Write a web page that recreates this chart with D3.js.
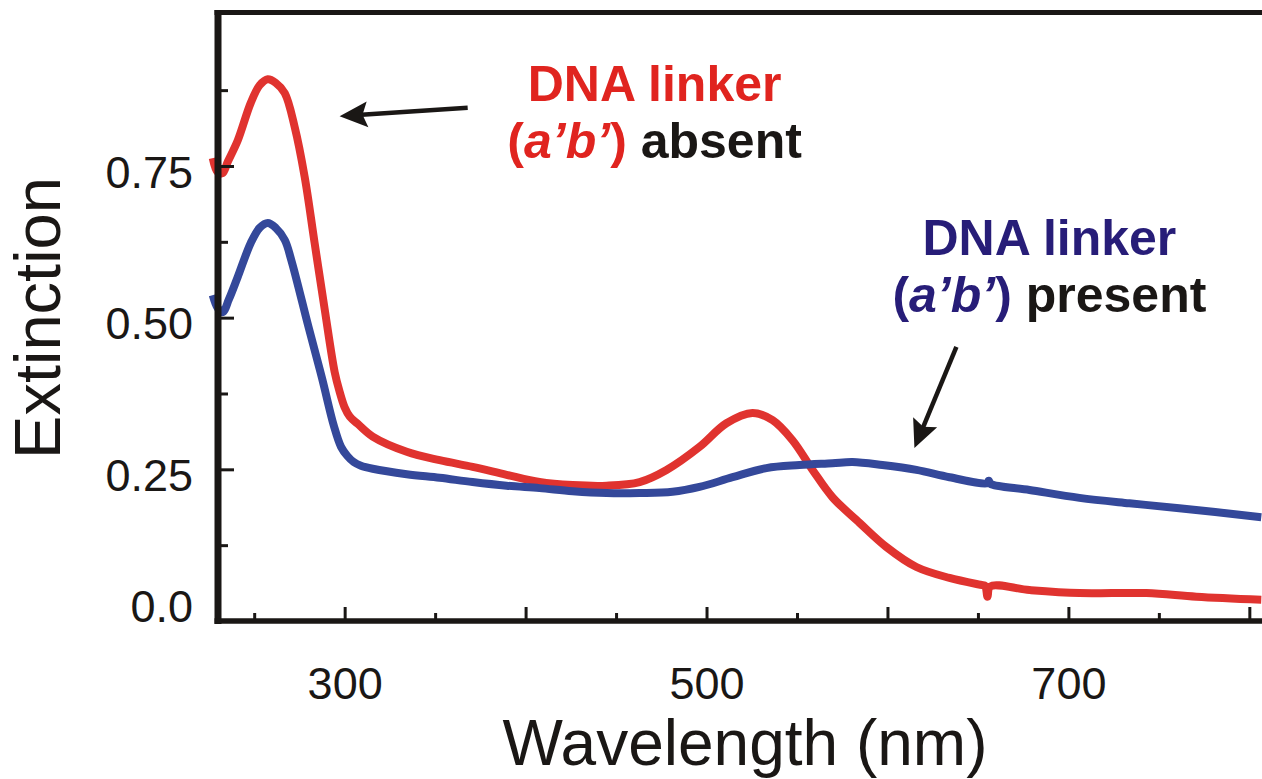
<!DOCTYPE html>
<html>
<head>
<meta charset="utf-8">
<script src="https://cdn.jsdelivr.net/npm/d3@7"></script>
<style>
  body { margin: 0; background: #fff; }
  svg { display: block; }
</style>
</head>
<body>
<script>
const WIDTH_PX = 1262;
const HEIGHT_PX = 779;

// wavelength (nm) / extinction
const absentWavelengths = [227.1, 229.8, 232.5, 235.4, 240.9, 248.1, 253.0, 257.5, 261.9, 266.9,
  272.4, 277.9, 283.4, 289.0, 294.5, 297.2, 300.0, 302.8, 307.2, 315.5, 334.3, 352.5, 370.7,
  389.5, 407.7, 426.0, 444.8, 463.0, 477.9, 496.1, 511.0, 525.4, 536.5, 547.5, 558.6, 569.6,
  584.5, 599.4, 616.0, 634.3, 652.5, 654.0, 655.3, 656.8, 678.5, 706.1, 743.1, 770.7, 806.6];
const absentExtinction = [0.763, 0.740, 0.738, 0.757, 0.792, 0.854, 0.883, 0.893, 0.887, 0.870,
  0.814, 0.732, 0.623, 0.513, 0.410, 0.378, 0.352, 0.337, 0.325, 0.304, 0.279, 0.265, 0.254,
  0.241, 0.229, 0.224, 0.223, 0.229, 0.249, 0.287, 0.326, 0.343, 0.331, 0.298, 0.249, 0.204,
  0.162, 0.122, 0.089, 0.071, 0.059, 0.058, 0.040, 0.057, 0.051, 0.046, 0.046, 0.040, 0.035];

const presentWavelengths = [227.1, 229.8, 232.6, 236.0, 240.9, 248.1, 253.0, 257.5, 261.9, 266.9,
  270.5, 280.0, 287.5, 294.0, 298.0, 301.5, 305.0, 309.0, 315.5, 334.3, 352.5, 370.7, 389.5,
  407.7, 426.0, 444.8, 463.0, 481.2, 496.1, 514.4, 533.1, 551.4, 569.6, 580.7, 597.2, 616.0,
  634.3, 655.0, 656.0, 657.0, 678.5, 706.1, 733.7, 761.3, 806.6];
const presentExtinction = [0.537, 0.516, 0.509, 0.530, 0.567, 0.623, 0.648, 0.656, 0.648, 0.628,
  0.595, 0.485, 0.400, 0.322, 0.287, 0.272, 0.262, 0.256, 0.251, 0.242, 0.236, 0.229, 0.223,
  0.219, 0.214, 0.211, 0.211, 0.213, 0.221, 0.237, 0.252, 0.257, 0.260, 0.262, 0.257, 0.249,
  0.237, 0.227, 0.231, 0.226, 0.216, 0.203, 0.194, 0.186, 0.171];

const yMajorTicks = [0, 0.25, 0.5, 0.75];
const yTickLabels = ['0.0', '0.25', '0.50', '0.75'];
const yMinorTicks = [0.125, 0.375, 0.625, 0.875];
const xMajorTicks = [300, 400, 500, 600, 700, 800];
const xMinorTicks = [250, 350, 450, 550, 650, 750];
const xLabelledTicks = [300, 500, 700];

const RED = '#e0332f';
const BLUE = '#34489a';
const INK = '#1a1715';
const FONT = '"Liberation Sans", Arial, sans-serif';

let svg = d3.select('body').append('svg')
    .attr('width', WIDTH_PX)
    .attr('height', HEIGHT_PX);

let xScale = d3.scaleLinear().domain([230, 807]).range([218, 1262]);
let yScale = d3.scaleLinear().domain([0, 1]).range([621, 14.3]);

// curves
let curves = [
  { xs: absentWavelengths, ys: absentExtinction, color: RED },
  { xs: presentWavelengths, ys: presentExtinction, color: BLUE }
];
for (let i = 0; i < curves.length; i++) {
  let pts = curves[i].xs.map(function(x, j) { return [x, curves[i].ys[j]]; });
  let line = d3.line()
      .x(function(p) { return xScale(p[0]); })
      .y(function(p) { return yScale(p[1]); })
      .curve(d3.curveCatmullRom.alpha(0.5));
  svg.append('path')
      .attr('fill', 'none')
      .attr('d', line(pts))
      .attr('stroke', curves[i].color)
      .attr('stroke-width', 8)
      .attr('stroke-linejoin', 'round');
}

// axes, ticks point inward
function styleAxis(g) {
  g.select('.domain').remove();
  g.selectAll('.tick line').attr('stroke', INK).attr('stroke-width', 3);
  g.selectAll('.tick text').attr('fill', INK).attr('font-size', 45).attr('font-family', FONT);
}

svg.append('g')
    .attr('transform', 'translate(218,0)')
    .call(d3.axisLeft(yScale).tickValues(yMinorTicks).tickSizeInner(-10).tickSizeOuter(0).tickFormat(''))
    .call(styleAxis);
let yAxis = svg.append('g')
    .attr('transform', 'translate(218,0)')
    .call(d3.axisLeft(yScale).tickValues(yMajorTicks).tickSizeInner(-16).tickSizeOuter(0)
        .tickPadding(25).tickFormat(function(d, i) { return yTickLabels[i]; }))
    .call(styleAxis);
yAxis.selectAll('.tick text').attr('dy', function(d) { return d === 0 ? '0.0em' : '0.47em'; });

svg.append('g')
    .attr('transform', 'translate(0,621)')
    .call(d3.axisBottom(xScale).tickValues(xMinorTicks).tickSizeInner(-8).tickSizeOuter(0).tickFormat(''))
    .call(styleAxis);
svg.append('g')
    .attr('transform', 'translate(0,621)')
    .call(d3.axisBottom(xScale).tickValues(xMajorTicks).tickSizeInner(-14).tickSizeOuter(0)
        .tickPadding(46).tickFormat(function(d) { return xLabelledTicks.indexOf(d) >= 0 ? d : ''; }))
    .call(styleAxis);

// frame
svg.append('line').attr('x1', 218).attr('x2', 218).attr('y1', 10).attr('y2', 624)
    .attr('stroke', INK).attr('stroke-width', 7);
svg.append('line').attr('x1', 214.5).attr('x2', WIDTH_PX).attr('y1', 621).attr('y2', 621)
    .attr('stroke', INK).attr('stroke-width', 5.5);
svg.append('line').attr('x1', 214.5).attr('x2', WIDTH_PX).attr('y1', 12.5).attr('y2', 12.5)
    .attr('stroke', INK).attr('stroke-width', 5);

// axis titles
svg.append('text')
    .attr('x', 745).attr('y', 765)
    .attr('text-anchor', 'middle')
    .attr('font-family', FONT).attr('font-size', 64).attr('fill', INK)
    .text('Wavelength (nm)');
svg.append('text')
    .attr('transform', 'translate(60,318) rotate(-90)')
    .attr('text-anchor', 'middle')
    .attr('font-family', FONT).attr('font-size', 65).attr('fill', INK)
    .text('Extinction');

// annotations
function label(cx, y1, y2, color, word) {
  svg.append('text')
      .attr('x', xScale(cx)).attr('y', yScale(y1))
      .attr('text-anchor', 'middle')
      .attr('font-family', FONT).attr('font-weight', 'bold').attr('font-size', 50)
      .attr('fill', color)
      .text('DNA linker');
  let t2 = svg.append('text')
      .attr('x', xScale(cx)).attr('y', yScale(y2))
      .attr('text-anchor', 'middle')
      .attr('font-family', FONT).attr('font-weight', 'bold').attr('font-size', 50)
      .attr('fill', color);
  t2.append('tspan').text('(');
  t2.append('tspan').attr('font-style', 'italic').text('a’b’');
  t2.append('tspan').text(') ');
  t2.append('tspan').attr('fill', INK).text(word);
}
label(471.3, 0.857, 0.763, '#e0241f', 'absent');
label(689.5, 0.603, 0.509, '#271d78', 'present');

function arrow(x0, y0, x1, y1) {
  let ax = xScale(x0), ay = yScale(y0), bx = xScale(x1), by = yScale(y1);
  let dx = bx - ax, dy = by - ay, len = Math.sqrt(dx * dx + dy * dy);
  let ux = dx / len, uy = dy / len;
  let headLen = 28, headHalf = 13;
  let baseX = bx - ux * headLen, baseY = by - uy * headLen;
  svg.append('line')
      .attr('x1', ax).attr('y1', ay)
      .attr('x2', baseX + ux * 6).attr('y2', baseY + uy * 6)
      .attr('stroke', INK).attr('stroke-width', 4.5);
  let head = [
    [bx, by],
    [baseX - uy * headHalf, baseY + ux * headHalf],
    [baseX + ux * 5, baseY + uy * 5],
    [baseX + uy * headHalf, baseY - ux * headHalf]
  ];
  svg.append('path')
      .attr('d', 'M' + head.join('L') + 'Z')
      .attr('fill', INK);
}
arrow(368.0, 0.846, 297.2, 0.832);
arrow(638.1, 0.452, 614.9, 0.285);
</script>
</body>
</html>
